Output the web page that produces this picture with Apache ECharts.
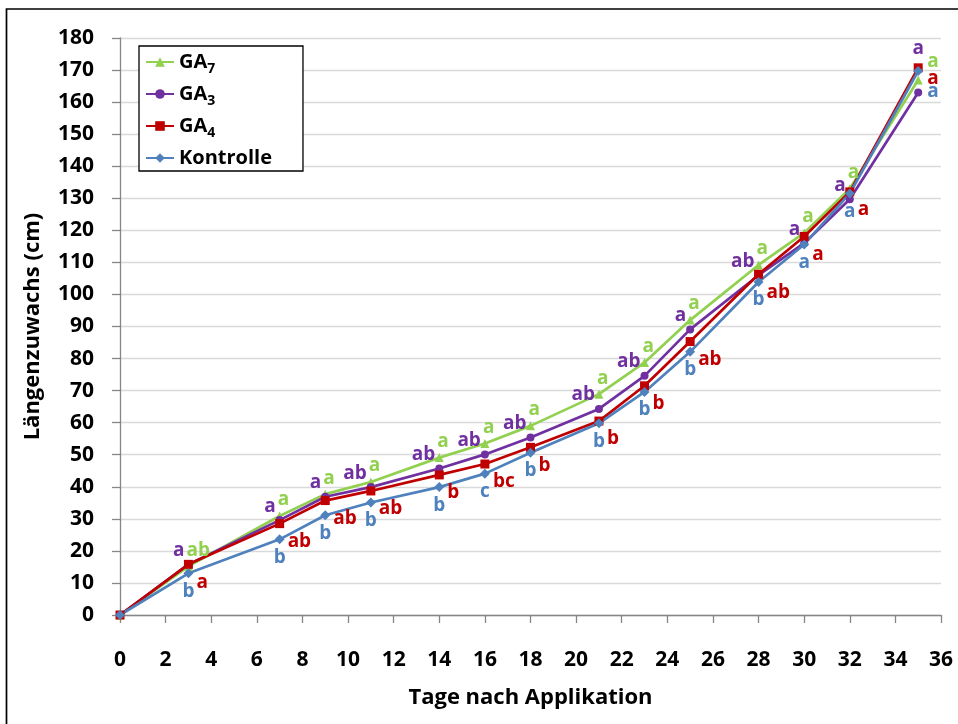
<!DOCTYPE html>
<html>
<head>
<meta charset="utf-8">
<script src="https://cdn.jsdelivr.net/npm/echarts@6/dist/echarts.min.js"></script>
<style>
html,body{margin:0;padding:0;background:#fff;}
#chart{width:958px;height:724px;}
</style>
</head>
<body>
<div id="chart"></div>
<script>
// ---- data ----
const days = [0, 3, 7, 9, 11, 14, 16, 18, 21, 23, 25, 28, 30, 32, 35];
const ga7 = [0, 15.2, 30.9, 37.7, 41.5, 49.1, 53.5, 59.0, 68.9, 78.8, 92.0, 109.2, 119.2, 133.0, 166.9];
const ga3 = [0, 15.8, 29.6, 36.9, 39.9, 45.7, 50.1, 55.4, 64.3, 74.6, 89.1, 106.0, 116.0, 129.7, 163.0];
const ga4 = [0, 15.8, 28.5, 35.7, 38.7, 43.7, 47.1, 52.3, 60.5, 71.5, 85.3, 106.3, 118.1, 132.0, 170.7];
const kontrolle = [0, 13.0, 23.6, 31.1, 35.1, 39.9, 44.1, 50.6, 59.8, 69.6, 82.1, 103.9, 115.6, 131.5, 169.7];

const ga7Letters = ['', 'ab', 'a', 'a', 'a', 'a', 'a', 'a', 'a', 'a', 'a', 'a', 'a', 'a', 'a'];
const ga3Letters = ['', 'a', 'a', 'a', 'ab', 'ab', 'ab', 'ab', 'ab', 'ab', 'a', 'ab', 'a', 'a', 'a'];
const ga4Letters = ['', 'a', 'ab', 'ab', 'ab', 'b', 'bc', 'b', 'b', 'b', 'ab', 'ab', 'a', 'a', 'a'];
const kontrolleLetters = ['', 'b', 'b', 'b', 'b', 'b', 'c', 'b', 'b', 'b', 'b', 'b', 'a', 'a', 'a'];

const seriesNames = ['GA7', 'GA3', 'GA4', 'Kontrolle'];
const xTicks = { min: 0, max: 36, interval: 2 };
const yTicks = { min: 0, max: 180, interval: 10 };

// ---- styling ----
const FONT = '"Open Sans", "Noto Sans", sans-serif';
const COLORS = { GA7: '#92D050', GA3: '#7030A0', GA4: '#C00000', Kontrolle: '#4F81BD' };
const SYMBOLS = {
  GA7: { symbol: 'triangle', size: 9 },
  GA3: { symbol: 'circle', size: 8 },
  GA4: { symbol: 'rect', size: 9 },
  Kontrolle: { symbol: 'diamond', size: 10 }
};
// label placement rules (relative to the point)
const PLACE = {
  GA7: { align: 'left', dx: -2, dy: -16 },
  GA3: { align: 'right', dx: -4, dy: -14 },
  GA4: { align: 'left', dx: 8, dy: 18 },
  Kontrolle: { align: 'center', dx: 0, dy: 18 }
};
const PLACE_LAST = {
  GA7: { align: 'left', dx: 9, dy: -18 },
  GA3: { align: 'center', dx: 0, dy: -44 },
  GA4: { align: 'left', dx: 9, dy: 11 },
  Kontrolle: { align: 'left', dx: 9, dy: 21 }
};

const valuesByName = { GA7: ga7, GA3: ga3, GA4: ga4, Kontrolle: kontrolle };
const lettersByName = { GA7: ga7Letters, GA3: ga3Letters, GA4: ga4Letters, Kontrolle: kontrolleLetters };

function buildSeries(name) {
  const vals = valuesByName[name];
  const letters = lettersByName[name];
  const s = SYMBOLS[name].size;
  const data = days.map((d, i) => {
    const p = (i === days.length - 1) ? PLACE_LAST[name] : PLACE[name];
    return {
      value: [d, vals[i]],
      label: {
        show: letters[i] !== '',
        formatter: letters[i],
        position: [s / 2 + p.dx, s / 2 + p.dy],
        align: p.align,
        verticalAlign: 'middle'
      }
    };
  });
  return {
    name: name,
    type: 'line',
    data: data,
    symbol: SYMBOLS[name].symbol,
    symbolSize: s,
    showAllSymbol: true,
    lineStyle: { color: COLORS[name], width: 2.7 },
    itemStyle: { color: COLORS[name], borderWidth: 0 },
    label: {
      color: COLORS[name],
      fontFamily: FONT,
      fontWeight: 'bold',
      fontSize: 19
    },
    emphasis: { disabled: true },
    animation: false
  };
}

const chart = echarts.init(document.getElementById('chart'), null, { renderer: 'canvas' });

const option = {
  backgroundColor: '#ffffff',
  animation: false,
  grid: { left: 120, right: 17, top: 38, bottom: 109, containLabel: false },
  legend: {
    data: seriesNames,
    orient: 'vertical',
    left: 139,
    top: 46,
    itemWidth: 28,
    itemHeight: 12,
    itemGap: 8,
    padding: [6, 31, 3, 6],
    borderColor: '#000000',
    borderWidth: 1.3,
    backgroundColor: '#ffffff',
    formatter: function (name) {
      const m = name.match(/^GA(\d)$/);
      if (m) return '{m|GA}{s|' + m[1] + '}';
      return '{m|' + name + '}';
    },
    textStyle: {
      color: '#000',
      fontFamily: FONT,
      fontWeight: 'bold',
      fontSize: 20,
      rich: {
        m: { fontFamily: FONT, fontWeight: 'bold', fontSize: 20, lineHeight: 28, verticalAlign: 'middle', color: '#000' },
        s: { fontFamily: FONT, fontWeight: 'bold', fontSize: 14, lineHeight: 14, verticalAlign: 'bottom', color: '#000' }
      }
    }
  },
  xAxis: {
    type: 'value',
    min: xTicks.min,
    max: xTicks.max,
    interval: xTicks.interval,
    name: 'Tage nach Applikation',
    nameLocation: 'middle',
    nameGap: 72,
    nameTextStyle: { fontFamily: FONT, fontWeight: 'bold', fontSize: 22, color: '#000' },
    axisLine: { show: true, onZero: false, lineStyle: { color: '#868686', width: 1.3 } },
    axisTick: { show: true, inside: false, length: 8, lineStyle: { color: '#868686', width: 1.3 } },
    axisLabel: { margin: 35, fontFamily: FONT, fontWeight: 'bold', fontSize: 21, color: '#000' },
    splitLine: { show: false }
  },
  yAxis: {
    type: 'value',
    min: yTicks.min,
    max: yTicks.max,
    interval: yTicks.interval,
    name: 'Längenzuwachs (cm)',
    nameLocation: 'middle',
    nameGap: 76,
    nameRotate: 90,
    nameTextStyle: { fontFamily: FONT, fontWeight: 'bold', fontSize: 22, color: '#000' },
    axisLine: { show: true, lineStyle: { color: '#868686', width: 1.3 } },
    axisTick: { show: true, inside: false, length: 8, lineStyle: { color: '#868686', width: 1.3 } },
    axisLabel: { margin: 26, fontFamily: FONT, fontWeight: 'bold', fontSize: 21, color: '#000' },
    splitLine: { show: true, lineStyle: { color: '#D9D9D9', width: 1.3 } }
  },
  graphic: [{
    type: 'rect',
    shape: { x: 6.5, y: 9, width: 1000, height: 1000 },
    style: { fill: 'none', stroke: '#000', lineWidth: 1.7 },
    silent: true,
    z: 100
  }],
  series: seriesNames.map(buildSeries)
};

chart.setOption(option);
</script>
</body>
</html>
